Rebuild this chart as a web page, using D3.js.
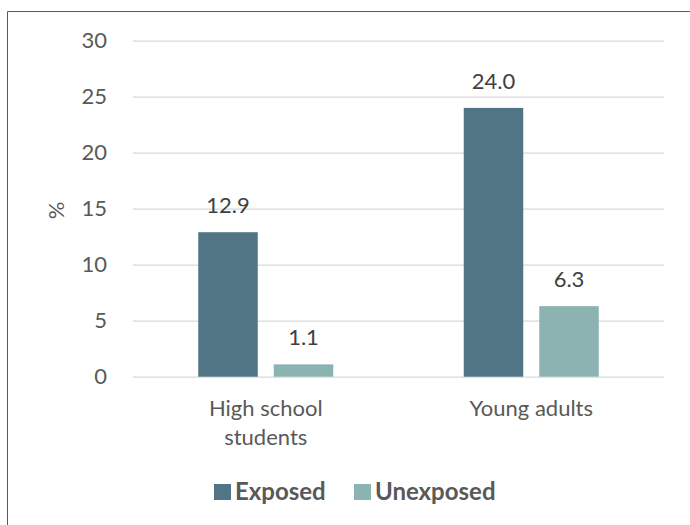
<!DOCTYPE html>
<html>
<head>
<meta charset="utf-8">
<script src="https://cdn.jsdelivr.net/npm/d3@7"></script>
<style>
  html, body { margin: 0; padding: 0; background: #fff; }
  svg { display: block; font-family: Lato, "Open Sans", sans-serif; }
</style>
</head>
<body>
<svg id="chart" width="690" height="525"></svg>
<script>
const categories = ["High school students", "Young adults"];
const categoryLines = [["High school", "students"], ["Young adults"]];
const seriesNames = ["Exposed", "Unexposed"];
const exposed = [12.9, 24.0];
const unexposed = [1.1, 6.3];
const yTicks = [0, 5, 10, 15, 20, 25, 30];
const seriesColors = ["#517585", "#8ab3b2"];

const svg = d3.select("#chart");
const plotLeft = 133, plotRight = 664, plotTop = 40.7, plotBottom = 376.7;

// frame
svg.append("path")
  .attr("d", `M7.5,525 L7.5,11.5 L690,11.5`)
  .attr("fill", "none").attr("stroke", "#4d5e66").attr("stroke-width", 1);

const y = d3.scaleLinear().domain([0, 30]).range([plotBottom, plotTop]);
const x0 = d3.scaleBand().domain(categories).range([plotLeft, plotRight]).padding(0);
const groupW = 135;
const x1 = d3.scaleBand().domain(seriesNames).range([0, groupW]).paddingInner(0.212).paddingOuter(0);

// y axis with gridlines
const yAxis = svg.append("g")
  .attr("transform", `translate(${plotLeft},0)`)
  .call(d3.axisLeft(y).tickValues(yTicks).tickSize(-(plotRight - plotLeft)).tickPadding(26));
yAxis.select(".domain").remove();
yAxis.selectAll(".tick line").attr("stroke", "#d9d9d9").attr("stroke-width", 1.3);
yAxis.selectAll(".tick text")
  .attr("fill", "#595959").style("font-size", "22px").style("font-family", "Lato, 'Open Sans', sans-serif");

// y axis title
svg.append("text")
  .attr("transform", `translate(64,210.5) rotate(-90)`)
  .attr("text-anchor", "middle")
  .attr("fill", "#595959").style("font-size", "22px")
  .text("%");

// bars
const data = categories.map((c, i) => ({ cat: c, vals: [exposed[i], unexposed[i]] }));
const groups = svg.selectAll("g.grp").data(data).join("g")
  .attr("class", "grp")
  .attr("transform", d => `translate(${x0(d.cat) + (x0.bandwidth() - groupW) / 2},0)`);

groups.selectAll("rect").data(d => d.vals.map((v, j) => ({ s: seriesNames[j], v, j })))
  .join("rect")
  .attr("x", d => x1(d.s))
  .attr("width", x1.bandwidth())
  .attr("y", d => y(d.v))
  .attr("height", d => y(0) - y(d.v))
  .attr("fill", d => seriesColors[d.j]);

groups.selectAll("text.val").data(d => d.vals.map((v, j) => ({ s: seriesNames[j], v, j })))
  .join("text")
  .attr("class", "val")
  .attr("x", d => x1(d.s) + x1.bandwidth() / 2)
  .attr("y", d => y(d.v) - 19)
  .attr("text-anchor", "middle")
  .attr("fill", "#404040").style("font-size", "22px")
  .text(d => d3.format(".1f")(d.v));

// category labels
categories.forEach((c, i) => {
  const t = svg.append("text")
    .attr("x", x0(c) + x0.bandwidth() / 2)
    .attr("y", 416)
    .attr("text-anchor", "middle")
    .attr("fill", "#595959").style("font-size", "22px");
  categoryLines[i].forEach((line, k) => {
    t.append("tspan").attr("x", x0(c) + x0.bandwidth() / 2).attr("y", 416 + k * 29).text(line);
  });
});

// legend
const legendX = [214, 354];
seriesNames.forEach((s, i) => {
  svg.append("rect")
    .attr("x", legendX[i]).attr("y", 484).attr("width", 17).attr("height", 16)
    .attr("fill", seriesColors[i]);
  svg.append("text")
    .attr("x", legendX[i] + 21).attr("y", 500)
    .attr("fill", "#595959").style("font-size", "24px").style("font-weight", "bold")
    .text(s);
});
</script>
</body>
</html>
